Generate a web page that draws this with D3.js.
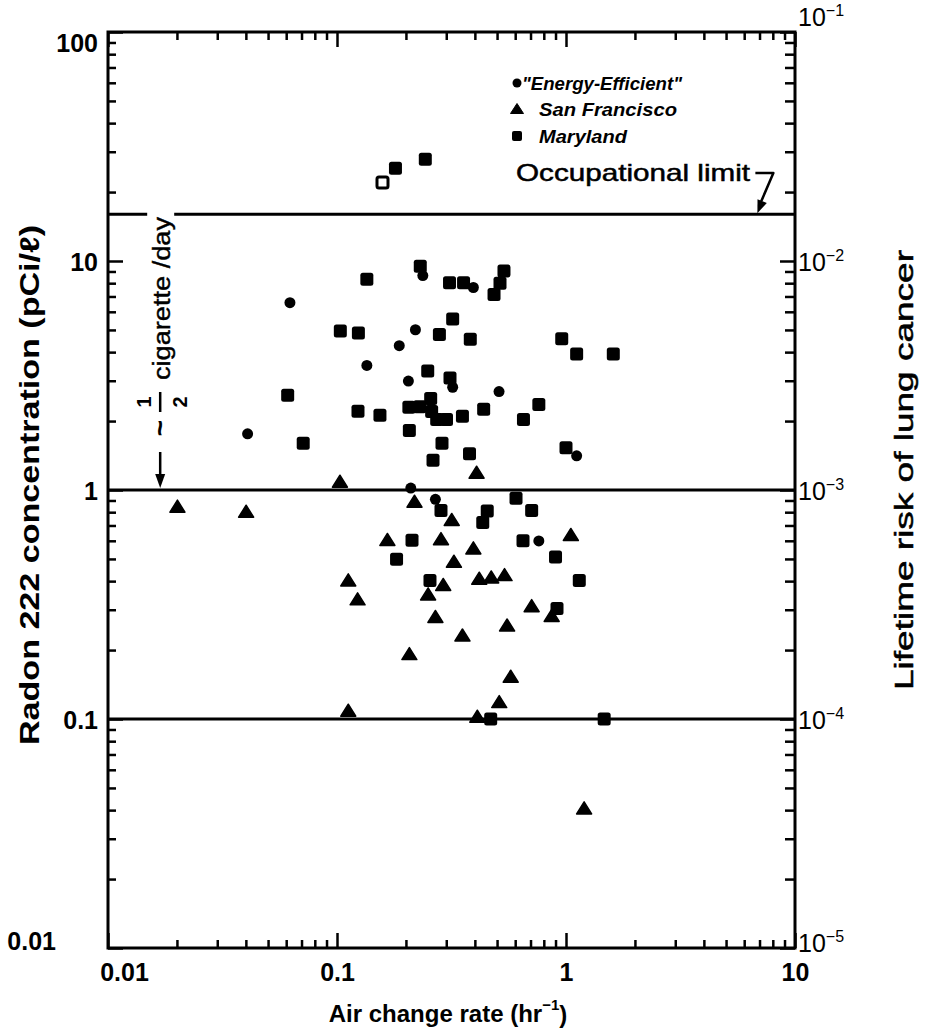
<!DOCTYPE html>
<html><head><meta charset="utf-8">
<script src="https://cdn.jsdelivr.net/npm/d3@7"></script>
<style>body{margin:0;background:#fff}</style>
</head><body>
<svg id="c" width="925" height="1035"></svg>
<script>
// ---------- data (air change rate hr^-1, radon pCi/l) ----------
const energyEfficient = [[0.0623,6.58],[0.237,8.64],[0.394,7.66],[0.22,5.01],[0.187,4.27],[0.135,3.50],[0.320,2.81],[0.205,2.99],[0.51,2.69],[0.0407,1.76],[1.113,1.41],[0.210,1.02],[0.269,0.911],[0.761,0.599]];
const sanFrancisco = [[0.0201,0.846],[0.0401,0.804],[0.103,1.087],[0.407,1.19],[0.218,0.889],[0.317,0.740],[0.166,0.605],[0.2845,0.61],[0.394,0.556],[1.05,0.636],[0.324,0.486],[0.112,0.403],[0.123,0.333],[0.250,0.350],[0.291,0.385],[0.418,0.41],[0.4715,0.415],[0.539,0.425],[0.708,0.311],[0.866,0.282],[0.269,0.279],[0.553,0.256],[0.353,0.2315],[0.207,0.192],[0.5735,0.153],[0.511,0.1186],[0.112,0.1087],[0.41,0.1023],[1.20,0.0407]];
const maryland = [[0.180,25.4],[0.243,27.8],[0.231,9.48],[0.135,8.32],[0.310,8.04],[0.357,8.04],[0.536,9.04],[0.515,8.0],[0.485,7.14],[0.1034,4.95],[0.124,4.85],[0.320,5.58],[0.280,4.77],[0.382,4.55],[0.958,4.58],[1.113,3.93],[1.609,3.93],[0.249,3.31],[0.3115,3.08],[0.0609,2.59],[0.1235,2.21],[0.154,2.12],[0.206,2.30],[0.230,2.31],[0.2565,2.51],[0.259,2.20],[0.2725,2.03],[0.3007,2.03],[0.353,2.10],[0.437,2.25],[0.652,2.03],[0.761,2.36],[0.207,1.82],[0.0712,1.60],[0.2874,1.60],[0.2626,1.35],[0.379,1.44],[1.0,1.53],[0.2845,0.814],[0.605,0.92],[0.708,0.814],[0.453,0.81],[0.433,0.721],[0.2126,0.603],[0.649,0.60],[0.182,0.498],[0.90,0.51],[0.2547,0.403],[1.143,0.403],[0.9135,0.304],[0.469,0.1],[1.468,0.1]];
const marylandOpen = [[0.158,22.0]];
const referenceLevels = [16, 1, 0.1];
const xTicksMajor = [0.01, 0.1, 1, 10];
const xTickLabels = ["0.01", "0.1", "1", "10"];
const yTicksMajor = [0.01, 0.1, 1, 10, 100];
const yTickLabels = ["0.01", "0.1", "1", "10", "100"];
const riskTicks = [1e-5, 1e-4, 1e-3, 1e-2, 1e-1];
const riskExponents = ["5", "4", "3", "2", "1"];
const legendLabels = ['"Energy-Efficient"', "San Francisco", "Maryland"];

// ---------- setup ----------
const FONT = '"Liberation Sans", Arial, sans-serif';
const svg = d3.select("#c");
const x = d3.scaleLog().domain([0.01, 10]).range([108, 795]);
const y = d3.scaleLog().domain([0.01, 100]).range([948, 32]);
const yR = d3.scaleLog().domain([1e-5, 1e-1]).range([948, 32]);
const minorX = d3.range(-2, 1).flatMap(e => d3.range(2, 10).map(m => m * Math.pow(10, e)));
const minorY = d3.range(-2, 2).flatMap(e => d3.range(2, 10).map(m => m * Math.pow(10, e)));
const minorR = d3.range(-5, -1).flatMap(e => d3.range(2, 10).map(m => m * Math.pow(10, e)));

// ---------- reference lines ----------
svg.append("g").selectAll("line").data(referenceLevels).join("line")
  .attr("x1", x.range()[0]).attr("x2", x.range()[1])
  .attr("y1", d => y(d)).attr("y2", d => y(d))
  .attr("stroke", "#000").attr("stroke-width", 3);

// ---------- cigarette annotation ----------
const cigX = x(0.0169);
const cg = svg.append("g").attr("transform", `translate(${cigX},${y(1)})rotate(-90)`);
cg.append("text").attr("x", 110).attr("y", 10)
  .attr("font-family", FONT).attr("font-size", 23).attr("stroke", "#000").attr("stroke-width", 0.4)
  .attr("textLength", 163).attr("lengthAdjust", "spacingAndGlyphs")
  .text("cigarette /day");
cg.insert("rect", "text").attr("x", 250).attr("y", -13).attr("width", 30).attr("height", 27).attr("fill", "#fff");
cg.append("text").attr("x", 88).attr("y", -9).attr("text-anchor", "middle")
  .attr("font-family", FONT).attr("font-size", 20).attr("font-weight", "bold").text("1");
cg.append("line").attr("x1", 78).attr("x2", 98).attr("y1", 0).attr("y2", 0)
  .attr("stroke", "#000").attr("stroke-width", 2.5);
cg.append("text").attr("x", 88).attr("y", 27).attr("text-anchor", "middle")
  .attr("font-family", FONT).attr("font-size", 20).attr("font-weight", "bold").text("2");
cg.append("text").attr("x", 62).attr("y", 9).attr("text-anchor", "middle")
  .attr("font-family", FONT).attr("font-size", 28).attr("font-weight", "bold").text("~");
// arrow down to 1 pCi/l line
svg.append("line").attr("x1", cigX).attr("x2", cigX).attr("y1", y(1) - 38).attr("y2", y(1) - 10)
  .attr("stroke", "#000").attr("stroke-width", 2.5);
svg.append("path")
  .attr("d", `M${cigX},${y(1) - 2}L${cigX - 5},${y(1) - 16}L${cigX + 5},${y(1) - 16}Z`)
  .attr("fill", "#000");

// ---------- data marks ----------
const tri = "M0,-6.5L7.5,5.5L-7.5,5.5Z";
svg.append("g").selectAll("path").data(sanFrancisco).join("path")
  .attr("d", tri).attr("transform", d => `translate(${x(d[0])},${y(d[1])})`)
  .attr("fill", "#000").attr("stroke", "#000").attr("stroke-width", 1.5).attr("stroke-linejoin", "round");
svg.append("g").selectAll("rect").data(maryland).join("rect")
  .attr("x", d => x(d[0]) - 6.5).attr("y", d => y(d[1]) - 6.5)
  .attr("width", 13).attr("height", 13).attr("rx", 2.5).attr("fill", "#000");
svg.append("g").selectAll("rect").data(marylandOpen).join("rect")
  .attr("x", d => x(d[0]) - 5.5).attr("y", d => y(d[1]) - 5.5)
  .attr("width", 11).attr("height", 11).attr("rx", 2).attr("fill", "#fff")
  .attr("stroke", "#000").attr("stroke-width", 3);
svg.append("g").selectAll("circle").data(energyEfficient).join("circle")
  .attr("cx", d => x(d[0])).attr("cy", d => y(d[1])).attr("r", 5.5).attr("fill", "#000");

// ---------- axes ----------
function clean(g) { g.select(".domain").remove(); g.selectAll("line").attr("stroke", "#000").attr("stroke-width", 2.5); }
// bottom
svg.append("g").attr("transform", "translate(0,948)")
  .call(d3.axisBottom(x).tickValues(minorX).tickSize(-8).tickFormat("")).call(clean);
svg.append("g").attr("transform", "translate(0,948)")
  .call(d3.axisBottom(x).tickValues(xTicksMajor).tickSize(-15).tickPadding(15)
    .tickFormat((d, i) => xTickLabels[i]))
  .call(clean)
  .call(g => g.selectAll("text").attr("font-family", FONT).attr("font-size", 25)
    .attr("font-weight", "bold").attr("fill", "#000")
    .attr("dx", d => d === 0.01 ? 16 : 0));
// top
svg.append("g").attr("transform", "translate(0,32)")
  .call(d3.axisTop(x).tickValues(minorX).tickSize(-8).tickFormat("")).call(clean);
svg.append("g").attr("transform", "translate(0,32)")
  .call(d3.axisTop(x).tickValues(xTicksMajor).tickSize(-15).tickFormat("")).call(clean);
// left
svg.append("g").attr("transform", "translate(108,0)")
  .call(d3.axisLeft(y).tickValues(minorY).tickSize(-8).tickFormat("")).call(clean);
svg.append("g").attr("transform", "translate(108,0)")
  .call(d3.axisLeft(y).tickValues(yTicksMajor).tickSize(-15).tickPadding(10)
    .tickFormat((d, i) => yTickLabels[i]))
  .call(clean)
  .call(g => g.selectAll("text").attr("font-family", FONT).attr("font-size", 25)
    .attr("font-weight", "bold").attr("fill", "#000")
    .attr("y", d => d === 100 ? 11 : d === 0.01 ? -7 : 1)
    .attr("dx", d => d === 0.01 ? -42 : 0));
// right
svg.append("g").attr("transform", "translate(795,0)")
  .call(d3.axisRight(yR).tickValues(minorR).tickSize(-10).tickFormat("")).call(clean);
svg.append("g").attr("transform", "translate(795,0)")
  .call(d3.axisRight(yR).tickValues(riskTicks).tickSize(-15).tickPadding(3).tickFormat(""))
  .call(clean)
  .call(g => g.selectAll("text")
    .attr("font-family", FONT).attr("font-size", 25).attr("fill", "#000")
    .attr("y", d => d === 1e-1 ? -15 : d === 1e-5 ? -5 : 1)
    .each(function(d, i) {
      const t = d3.select(this);
      t.append("tspan").text("10");
      t.append("tspan").attr("font-size", 16).attr("dy", "-0.6em").text("−" + riskExponents[i]);
    }));
// frame
svg.append("rect").attr("x", 108).attr("y", 32).attr("width", 687).attr("height", 916)
  .attr("fill", "none").attr("stroke", "#000").attr("stroke-width", 3);

// ---------- legend ----------
const lx = 517, ly = [83, 109, 136];
const lg = svg.append("g");
lg.append("circle").attr("cx", lx).attr("cy", ly[0]).attr("r", 4.5).attr("fill", "#000");
lg.append("path").attr("d", "M0,-5.5L6.5,4.5L-6.5,4.5Z").attr("transform", `translate(${lx},${ly[1]})`)
  .attr("fill", "#000").attr("stroke", "#000").attr("stroke-width", 1).attr("stroke-linejoin", "round");
lg.append("rect").attr("x", lx - 5).attr("y", ly[2] - 5).attr("width", 10).attr("height", 10).attr("rx", 2).attr("fill", "#000");
const legendX = [522, 539, 539], legendW = [160, 138, 88];
lg.selectAll("text.lab").data(legendLabels).join("text").attr("class", "lab")
  .attr("x", (d, i) => legendX[i]).attr("y", (d, i) => ly[i] + 7)
  .attr("font-family", FONT).attr("font-size", 19).attr("font-weight", "bold").attr("font-style", "italic")
  .attr("textLength", (d, i) => legendW[i]).attr("lengthAdjust", "spacingAndGlyphs")
  .text(d => d);
// occupational limit label + arrow
svg.append("text").attr("x", 516).attr("y", 181)
  .attr("font-family", FONT).attr("font-size", 24).attr("stroke", "#000").attr("stroke-width", 0.5)
  .attr("textLength", 234).attr("lengthAdjust", "spacingAndGlyphs")
  .text("Occupational limit");
const tipX = x(6.85), tipY = y(referenceLevels[0]) - 1;
const startX = tipX + 16, startY = 173;
svg.append("path").attr("d", `M${tipX - 2},${startY}H${startX}L${tipX + 3},${tipY - 10}`)
  .attr("fill", "none").attr("stroke", "#000").attr("stroke-width", 2.5).attr("stroke-linejoin", "round");
{
  const dx = tipX - startX, dy = tipY - startY, L = Math.hypot(dx, dy), ux = dx / L, uy = dy / L;
  const bx = tipX - ux * 13, by = tipY - uy * 13;
  svg.append("path").attr("d", `M${tipX},${tipY}L${bx - uy * 5},${by + ux * 5}L${bx + uy * 5},${by - ux * 5}Z`).attr("fill", "#000");
}

// ---------- axis titles ----------
svg.append("text").attr("transform", "translate(39,485)rotate(-90)").attr("text-anchor", "middle")
  .attr("font-family", FONT).attr("font-size", 27).attr("font-weight", "bold")
  .attr("textLength", 520).attr("lengthAdjust", "spacingAndGlyphs")
  .text("Radon 222 concentration (pCi/ℓ)");
svg.append("text").attr("transform", "translate(913,470)rotate(-90)").attr("text-anchor", "middle")
  .attr("font-family", FONT).attr("font-size", 26).attr("stroke", "#000").attr("stroke-width", 0.5)
  .attr("textLength", 440).attr("lengthAdjust", "spacingAndGlyphs")
  .text("Lifetime risk of lung cancer");
const xt = svg.append("text").attr("x", 448).attr("y", 1022).attr("text-anchor", "middle")
  .attr("font-family", FONT).attr("font-size", 24).attr("font-weight", "bold");
xt.append("tspan").text("Air change rate (hr");
xt.append("tspan").attr("font-size", 15).attr("dy", "-0.8em").text("−1");
xt.append("tspan").attr("dy", "0.55em").text(")");
</script>
</body></html>
